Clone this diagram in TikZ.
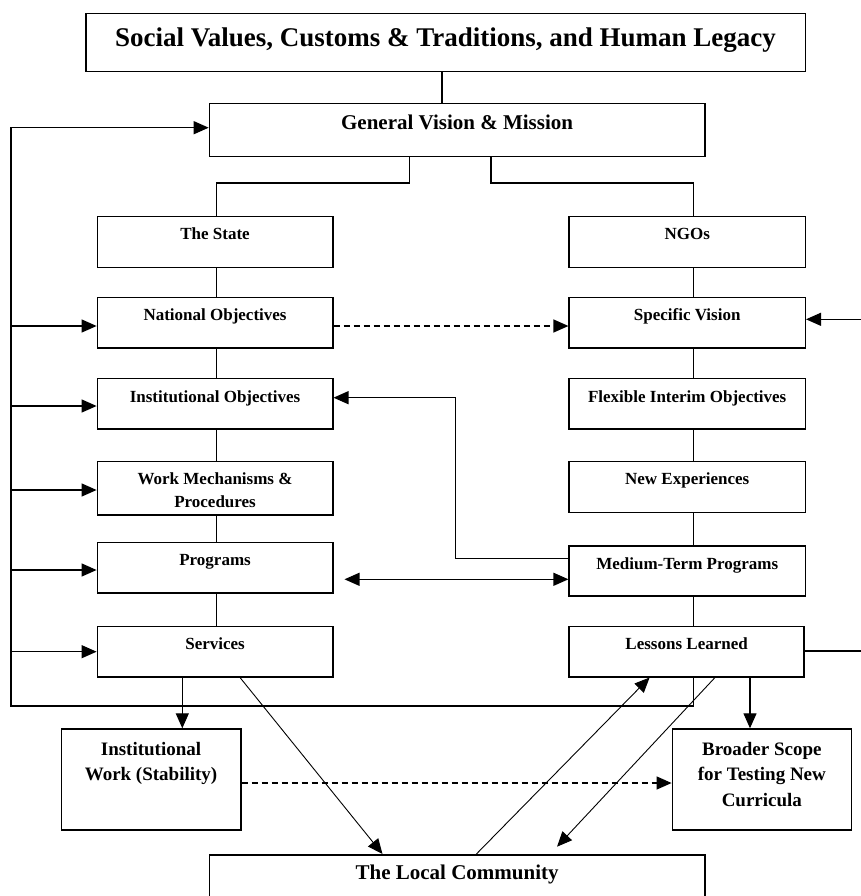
\documentclass[tikz,border=0pt]{standalone}
\usepackage{fontspec}
\setmainfont{Liberation Serif}
\usetikzlibrary{arrows.meta}
\newcommand{\bxt}[4]{\parbox[c][#2][t]{#1}{\centering\rule{0pt}{#3}#4\par}}
\begin{document}
\begin{tikzpicture}[x=1pt,y=-1pt,
  box/.style={draw, line width=1.5pt, inner sep=0pt, anchor=north west, font=\bfseries\fontsize{17}{23}\selectfont},
  conn/.style={line width=1.2pt},
  thinconn/.style={line width=0.9pt},
  arr/.style={-{Triangle[length=15pt,width=13pt]}},
  darr/.style={{Triangle[length=15pt,width=13pt]}-{Triangle[length=15pt,width=13pt]}},
  dashline/.style={dash pattern=on 6pt off 4pt}
]
\fill[white] (0,0) rectangle (861,896);
\useasboundingbox (0,0) rectangle (861,896);

% boxes
\node[box, font=\bfseries\fontsize{27}{32}\selectfont] (title) at (85,12.7) {\bxt{719.5pt}{58.3pt}{33pt}{Social Values, Customs \& Traditions, and Human Legacy}};
\node[box, font=\bfseries\fontsize{21}{26}\selectfont] (gv) at (208.7,102.7) {\bxt{495.3pt}{53pt}{26.3pt}{General Vision \& Mission}};

\node[box] (state) at (96.6,215.7) {\bxt{235.4pt}{51pt}{23pt}{The State}};
\node[box] (ngos) at (568.4,215.7) {\bxt{236.1pt}{51pt}{23pt}{NGOs}};
\node[box] (natobj) at (96.6,296.7) {\bxt{235.4pt}{50.6pt}{23pt}{National Objectives}};
\node[box] (specvis) at (568.4,296.7) {\bxt{236.1pt}{50.6pt}{23pt}{Specific Vision}};
\node[box] (instobj) at (96.6,377.7) {\bxt{235.4pt}{50.3pt}{24pt}{Institutional Objectives}};
\node[box] (flex) at (568.4,377.7) {\bxt{236.1pt}{50.3pt}{24pt}{Flexible Interim Objectives}};
\node[box, font=\bfseries\fontsize{17}{22.7}\selectfont] (workmech) at (96.6,460.7) {\bxt{235.4pt}{53.6pt}{23.2pt}{Work Mechanisms \&\\Procedures}};
\node[box] (newexp) at (568.4,460.7) {\bxt{236.1pt}{51pt}{23.2pt}{New Experiences}};
\node[box] (programs) at (96.6,541.7) {\bxt{235.4pt}{50.6pt}{23pt}{Programs}};
\node[box] (mtp) at (568.4,545) {\bxt{236.1pt}{50pt}{23.6pt}{Medium-Term Programs}};
\node[box] (services) at (96.6,625.7) {\bxt{235.4pt}{50.3pt}{23.3pt}{Services}};
\node[box] (lessons) at (568.4,625.7) {\bxt{235pt}{50.3pt}{23.3pt}{Lessons Learned}};

\node[box, font=\bfseries\fontsize{19}{25.6}\selectfont] (instwork) at (60.6,728.3) {\bxt{179.4pt}{100.7pt}{26.3pt}{Institutional\\Work (Stability)}};
\node[box, font=\bfseries\fontsize{19}{25.5}\selectfont] (broader) at (671.6,728.3) {\bxt{179pt}{100.7pt}{26pt}{Broader Scope\\for Testing New\\Curricula}};
\node[box, font=\bfseries\fontsize{21}{26}\selectfont] (lc) at (208.7,854) {\bxt{495.3pt}{50pt}{25pt}{The Local Community}};

% column axes
\coordinate (Lx) at (216.4,0);
\coordinate (Rx) at (693.6,0);

% tree connectors
\draw[conn] (title.south -| 442,0) -- (gv.north -| 442,0);
\draw[conn] (gv.south -| 409.7,0) -- (409.7,183) -| (state.north -| Lx);
\draw[conn] (gv.south -| 491,0) -- (491,183) -| (ngos.north -| Rx);

\draw[conn] (state.south -| Lx) -- (natobj.north -| Lx);
\draw[conn] (natobj.south -| Lx) -- (instobj.north -| Lx);
\draw[conn] (instobj.south -| Lx) -- (workmech.north -| Lx);
\draw[conn] (workmech.south -| Lx) -- (programs.north -| Lx);
\draw[conn] (programs.south -| Lx) -- (services.north -| Lx);

\draw[conn] (ngos.south -| Rx) -- (specvis.north -| Rx);
\draw[conn] (specvis.south -| Rx) -- (flex.north -| Rx);
\draw[conn] (flex.south -| Rx) -- (newexp.north -| Rx);
\draw[conn] (newexp.south -| Rx) -- (mtp.north -| Rx);
\draw[conn] (mtp.south -| Rx) -- (lessons.north -| Rx);

% left feedback loop
\coordinate (loopBR) at (693.6,706);
\coordinate (loopBL) at (11,706);
\coordinate (loopTL) at (11,127.7);
\draw[conn, arr] (lessons.south -| loopBR) -- (loopBR) -- (loopBL) -- (loopTL) -- (gv.west |- loopTL);
\draw[conn, arr] (loopBL |- 0,326) -- (natobj.west |- 0,326);
\draw[conn, arr] (loopBL |- 0,406) -- (instobj.west |- 0,406);
\draw[conn, arr] (loopBL |- 0,490) -- (workmech.west |- 0,490);
\draw[conn, arr] (loopBL |- 0,570) -- (programs.west |- 0,570);
\draw[conn, arr] (loopBL |- 0,651.7) -- (services.west |- 0,651.7);

% right feedback loop (vertical part runs beyond the page edge)
\coordinate (loopR1) at (866,651);
\coordinate (loopR2) at (866,319.3);
\draw[conn, arr] (lessons.east |- loopR1) -- (loopR1) -- (loopR2) -- (specvis.east |- loopR2);

% cross links
\draw[conn, arr, dashline] (natobj.east |- 0,326) -- (specvis.west |- 0,326);
\draw[conn, arr] (mtp.west |- 0,558.3) -- (455.2,558.3) -- (455.2,397.7) -- (instobj.east |- 0,397.7);
\draw[conn, darr, shorten <=11pt] (programs.east |- 0,579.3) -- (mtp.west |- 0,579.3);

% bottom links
\draw[conn, arr] (services.south -| 182.3,0) -- (instwork.north -| 182.3,0);
\draw[thinconn, arr] (services.south -| 240,0) -- (lc.north -| 382.5,0);
\draw[thinconn, arr] (lc.north -| 476.4,0) -- (lessons.south -| 649.6,0);
\draw[thinconn, arr, shorten >=10pt] (lessons.south -| 715,0) -- (lc.north -| 550.2,0);
\draw[conn, arr] (lessons.south -| 750,0) -- (broader.north -| 750,0);
\draw[conn, arr, dashline] (instwork.east |- 0,783) -- (broader.west |- 0,783);
\end{tikzpicture}
\end{document}
